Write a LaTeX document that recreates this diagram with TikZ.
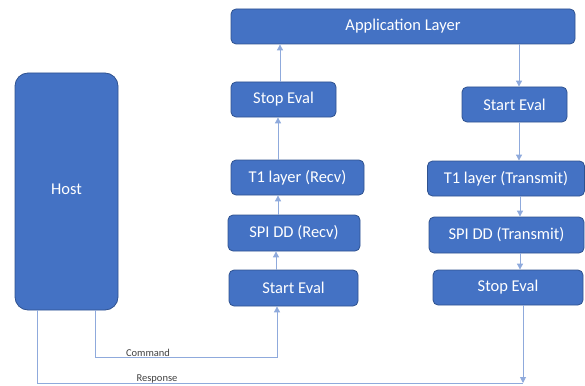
\documentclass[tikz,border=0pt]{standalone}
\usepackage{fontspec}
\setmainfont{Carlito}
\usetikzlibrary{arrows.meta}
\definecolor{boxblue}{HTML}{4472C4}
\definecolor{boxline}{HTML}{2F528F}
\definecolor{linkblue}{HTML}{8FAADC}
\definecolor{labelgray}{HTML}{404040}
\tikzset{
  block/.style={rectangle, rounded corners=5pt, fill=boxblue, draw=boxline, line width=0.8pt,
    text=white, font=\fontsize{16.5}{18}\selectfont, inner sep=0pt},
  link/.style={draw=linkblue, line width=0.9pt},
  arr/.style={link, -{Triangle[width=6pt,length=6pt]}},
  tag/.style={text=labelgray, font=\fontsize{10.5}{12}\selectfont, inner sep=1pt}
}
\begin{document}
\begin{tikzpicture}[x=1pt,y=-1pt]
\useasboundingbox (0,0) rectangle (585,385);
% boxes
\node[block, minimum width=344pt, minimum height=35pt] (app) at (403,26.5) {Application Layer};
\node[block, minimum width=105pt, minimum height=35pt] (stopR) at (283.5,99.5) {Stop Eval};
\node[block, minimum width=133pt, minimum height=35pt] (t1R) at (297.5,177.5) {T1 layer (Recv)};
\node[block, minimum width=132pt, minimum height=36pt] (spiR) at (294,233) {SPI DD (Recv)};
\node[block, minimum width=129pt, minimum height=36pt] (startR) at (293.5,288) {Start Eval};
\node[block, minimum width=105pt, minimum height=35pt] (startT) at (514.5,104.5) {Start Eval};
\node[block, minimum width=157pt, minimum height=35pt] (t1T) at (506,178.5) {T1 layer (Transmit)};
\node[block, minimum width=155pt, minimum height=36pt] (spiT) at (506.5,235) {SPI DD (Transmit)};
\node[block, minimum width=150pt, minimum height=35pt] (stopT) at (508,287.5) {Stop Eval};
\node[block, rounded corners=13pt, minimum width=103pt, minimum height=237pt] (host) at (66.5,191.5) {\raisebox{4.5pt}{Host}};
% receive side
\draw[arr] (startR.north -| 276,0) -- (spiR.south -| 276,0);
\draw[arr] (spiR.north -| 278,0) -- (t1R.south -| 278,0);
\draw[arr] (t1R.north -| 278,0) -- (stopR.south -| 278,0);
\draw[arr] (stopR.north -| 280,0) -- (app.south -| 280,0);
% transmit side
\draw[arr] (app.south -| 519,0) -- (startT.north -| 519,0);
\draw[arr] (startT.south -| 519,0) -- (t1T.north -| 519,0);
\draw[arr] (t1T.south -| 520,0) -- (spiT.north -| 520,0);
\draw[arr] (spiT.south -| 520,0) -- (stopT.north -| 520,0);
% host links
\coordinate (cmdturn) at (95,357);
\coordinate (resp) at (523,383);
\draw[arr] (host.south -| 95,0) -- (cmdturn) -| (startR.south -| 277,0);
\draw[link] (host.south -| 37,0) |- (resp);
\draw[arr] (stopT.south -| 523,0) -- (resp);
\node[tag, anchor=south] (cmdtag) at (148,358) {Command};
\node[tag, anchor=south] (resptag) at (157,384) {Response};
\end{tikzpicture}
\end{document}
